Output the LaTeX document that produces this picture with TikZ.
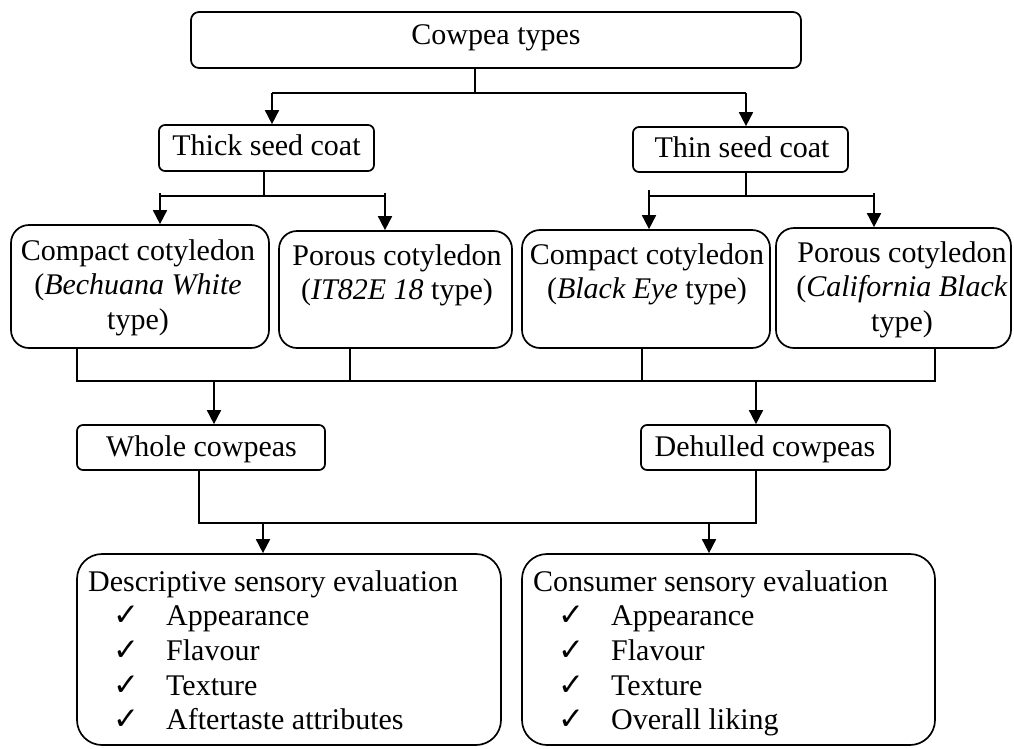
\documentclass[tikz,border=0pt]{standalone}
\usepackage{fontspec}
\setmainfont{Liberation Serif}
\newfontfamily\ckfont{DejaVu Sans}
\usetikzlibrary{arrows.meta}
\tikzset{
 bx/.style={draw, line width=1.7pt, inner sep=0pt},
 lbl/.style={inner sep=0pt, anchor=base, font=\fontsize{30}{34.7}\selectfont},
 con/.style={line width=1.7pt},
 arr/.style={line width=1.7pt, -{Triangle[width=14pt,length=14pt]}},
}
\newcommand{\ck}{{\ckfont\fontsize{31}{31}\selectfont ✓}}
\newcommand{\citem}[1]{\hspace*{25pt}\makebox[53pt][l]{\ck}#1}
\begin{document}
\begin{tikzpicture}[x=1pt,y=-1pt]
\fill[white] (0,0) rectangle (1014,748);
\useasboundingbox (0,0) rectangle (1014,748);
% boxes
\node[bx, rounded corners=8pt, minimum width=610pt, minimum height=56pt] (top) at (496,40) {};
\node[lbl] (toptxt) at (496,44) {Cowpea types};
\node[bx, rounded corners=6pt, minimum width=215pt, minimum height=46pt] (thick) at (266.5,148) {};
\node[lbl] (thicktxt) at (266.5,155) {Thick seed coat};
\node[bx, rounded corners=6pt, minimum width=215pt, minimum height=45pt] (thin) at (740.5,149.5) {};
\node[lbl] (thintxt) at (742,157) {Thin seed coat};
\node[bx, rounded corners=18pt, minimum width=258pt, minimum height=123pt] (cA) at (140,286.5) {};
\node[lbl] (cAt) at (138,260) {\parbox[t]{258pt}{\centering Compact cotyledon\\(\textit{Bechuana White}\\type)}};
\node[bx, rounded corners=18pt, minimum width=233pt, minimum height=117pt] (cB) at (395.5,289.5) {};
\node[lbl] (cBt) at (397,265) {\parbox[t]{233pt}{\centering Porous cotyledon\\(\textit{IT82E 18} type)}};
\node[bx, rounded corners=18pt, minimum width=248pt, minimum height=118pt] (cC) at (646,289) {};
\node[lbl] (cCt) at (647,264) {\parbox[t]{248pt}{\centering Compact cotyledon\\(\textit{Black Eye} type)}};
\node[bx, rounded corners=18pt, minimum width=235pt, minimum height=120pt] (cD) at (893.5,288) {};
\node[lbl] (cDt) at (902,262) {\parbox[t]{235pt}{\centering Porous cotyledon\\(\textit{California Black}\\type)}};
\node[bx, rounded corners=6pt, minimum width=248pt, minimum height=45pt] (whole) at (201,447.5) {};
\node[lbl] (wholetxt) at (201.5,456) {Whole cowpeas};
\node[bx, rounded corners=6pt, minimum width=249pt, minimum height=45pt] (dehulled) at (765.5,447.5) {};
\node[lbl] (dehulledtxt) at (765,456) {Dehulled cowpeas};
\node[bx, rounded corners=25pt, minimum width=424pt, minimum height=191pt] (desc) at (289,649.5) {};
\node[lbl, anchor=base west] (desctxt) at (88,591) {\parbox[t]{420pt}{\raggedright Descriptive sensory evaluation\\\citem{Appearance}\\\citem{Flavour}\\\citem{Texture}\\\citem{Aftertaste attributes}}};
\node[bx, rounded corners=25pt, minimum width=413pt, minimum height=191pt] (cons) at (728.5,649.5) {};
\node[lbl, anchor=base west] (constxt) at (533,591) {\parbox[t]{400pt}{\raggedright Consumer sensory evaluation\\\citem{Appearance}\\\citem{Flavour}\\\citem{Texture}\\\citem{Overall liking}}};
% connectors: top
\coordinate (t1) at (475,93);
\coordinate (tl) at (272,93);
\coordinate (tr) at (746,93);
\draw[con] (top.south -| t1) -- (t1);
\draw[con] (tl) -- (tr);
\draw[arr] (tl) -- (tl |- thick.north);
\draw[arr] (tr) -- (tr |- thin.north);
% thick
\coordinate (k1) at (264,196);
\coordinate (kl) at (160,193);
\coordinate (kr) at (385,193);
\draw[con] (thick.south -| k1) -- (k1);
\draw[con] (kl |- k1) -- (kr |- k1);
\draw[arr] (kl) -- (kl |- cA.north);
\draw[arr] (kr) -- (kr |- cB.north);
% thin
\coordinate (n1) at (746,196);
\coordinate (nl) at (649,190);
\coordinate (nr) at (874,193);
\draw[con] (thin.south -| n1) -- (n1);
\draw[con] (nl |- n1) -- (nr |- n1);
\draw[arr] (nl) -- (nl |- cC.north);
\draw[arr] (nr) -- (nr |- cD.north);
% merge
\coordinate (mA) at (77,381);
\coordinate (mB) at (350,381);
\coordinate (mC) at (642,381);
\coordinate (mD) at (935,381);
\draw[con] (cA.south -| mA) -- (mA) -- (mD) -- (cD.south -| mD);
\draw[con] (cB.south -| mB) -- (mB);
\draw[con] (cC.south -| mC) -- (mC);
\coordinate (mw) at (214,381);
\coordinate (md) at (756,381);
\draw[arr] (mw) -- (mw |- whole.north);
\draw[arr] (md) -- (md |- dehulled.north);
% bottom
\coordinate (w1) at (199,523);
\coordinate (d1) at (756,523);
\draw[con] (whole.south -| w1) -- (w1) -- (d1) -- (dehulled.south -| d1);
\coordinate (e1) at (263,523);
\coordinate (e2) at (709,523);
\draw[arr] (e1) -- (e1 |- desc.north);
\draw[arr] (e2) -- (e2 |- cons.north);
\end{tikzpicture}
\end{document}
